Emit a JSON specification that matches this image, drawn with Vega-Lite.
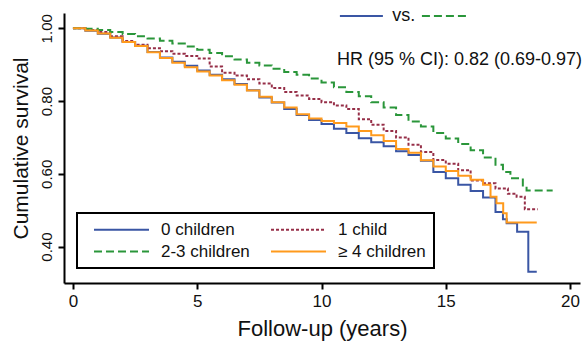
{
  "$schema": "https://vega.github.io/schema/vega-lite/v6.json",
  "width": 516,
  "height": 270,
  "autosize": {"type": "none"},
  "padding": {"left": 64, "top": 13, "right": 5, "bottom": 62},
  "background": "white",
  "config": {
    "view": {"stroke": null},
    "font": "Liberation Sans",
    "legend": {
      "orient": "none",
      "direction": "horizontal",
      "legendX": 13,
      "legendY": 200,
      "columns": 2,
      "title": null,
      "symbolType": "M-5,0H5",
      "symbolSize": 121,
      "symbolStrokeWidth": 2,
      "symbolOffset": 28,
      "labelOffset": 31,
      "strokeColor": "black",
      "strokeWidth": 2,
      "padding": 8,
      "columnPadding": 12,
      "rowPadding": 4,
      "labelFont": "Liberation Sans",
      "labelFontSize": 17,
      "labelColor": "#111111",
      "labelLimit": 300
    }
  },
  "datasets": {
    "km": [
      {"group": "0 children", "t": 0, "s": 1.0},
      {"group": "0 children", "t": 0.5, "s": 0.993},
      {"group": "0 children", "t": 1, "s": 0.985},
      {"group": "0 children", "t": 1.5, "s": 0.975},
      {"group": "0 children", "t": 2, "s": 0.962},
      {"group": "0 children", "t": 2.5, "s": 0.952},
      {"group": "0 children", "t": 3, "s": 0.935},
      {"group": "0 children", "t": 3.5, "s": 0.92},
      {"group": "0 children", "t": 4, "s": 0.908},
      {"group": "0 children", "t": 4.5, "s": 0.897},
      {"group": "0 children", "t": 5, "s": 0.884},
      {"group": "0 children", "t": 5.5, "s": 0.872},
      {"group": "0 children", "t": 6, "s": 0.86},
      {"group": "0 children", "t": 6.5, "s": 0.847},
      {"group": "0 children", "t": 7, "s": 0.83},
      {"group": "0 children", "t": 7.5, "s": 0.81},
      {"group": "0 children", "t": 8, "s": 0.796},
      {"group": "0 children", "t": 8.5, "s": 0.778},
      {"group": "0 children", "t": 9, "s": 0.762},
      {"group": "0 children", "t": 9.5, "s": 0.748},
      {"group": "0 children", "t": 10, "s": 0.737},
      {"group": "0 children", "t": 10.5, "s": 0.724},
      {"group": "0 children", "t": 11, "s": 0.712},
      {"group": "0 children", "t": 11.5, "s": 0.698},
      {"group": "0 children", "t": 12, "s": 0.687},
      {"group": "0 children", "t": 12.5, "s": 0.676},
      {"group": "0 children", "t": 13, "s": 0.662},
      {"group": "0 children", "t": 13.5, "s": 0.652},
      {"group": "0 children", "t": 14, "s": 0.636},
      {"group": "0 children", "t": 14.5, "s": 0.605},
      {"group": "0 children", "t": 15, "s": 0.588},
      {"group": "0 children", "t": 15.5, "s": 0.57},
      {"group": "0 children", "t": 16, "s": 0.553},
      {"group": "0 children", "t": 16.5, "s": 0.535},
      {"group": "0 children", "t": 17, "s": 0.495},
      {"group": "0 children", "t": 17.3, "s": 0.475},
      {"group": "0 children", "t": 17.45, "s": 0.464},
      {"group": "0 children", "t": 17.87, "s": 0.441},
      {"group": "0 children", "t": 18.32, "s": 0.331},
      {"group": "0 children", "t": 18.66, "s": 0.331},
      {"group": "1 child", "t": 0, "s": 1.0},
      {"group": "1 child", "t": 0.5, "s": 0.995},
      {"group": "1 child", "t": 1, "s": 0.99},
      {"group": "1 child", "t": 1.5, "s": 0.978},
      {"group": "1 child", "t": 2, "s": 0.965},
      {"group": "1 child", "t": 2.5, "s": 0.955},
      {"group": "1 child", "t": 3, "s": 0.945},
      {"group": "1 child", "t": 3.5, "s": 0.937},
      {"group": "1 child", "t": 4, "s": 0.93},
      {"group": "1 child", "t": 4.5, "s": 0.924},
      {"group": "1 child", "t": 5, "s": 0.917},
      {"group": "1 child", "t": 5.5, "s": 0.895},
      {"group": "1 child", "t": 6, "s": 0.878},
      {"group": "1 child", "t": 6.5, "s": 0.87},
      {"group": "1 child", "t": 7, "s": 0.86},
      {"group": "1 child", "t": 7.5, "s": 0.848},
      {"group": "1 child", "t": 8, "s": 0.836},
      {"group": "1 child", "t": 8.5, "s": 0.825},
      {"group": "1 child", "t": 9, "s": 0.815},
      {"group": "1 child", "t": 9.5, "s": 0.806},
      {"group": "1 child", "t": 10, "s": 0.797},
      {"group": "1 child", "t": 10.5, "s": 0.788},
      {"group": "1 child", "t": 11, "s": 0.778},
      {"group": "1 child", "t": 11.5, "s": 0.75},
      {"group": "1 child", "t": 12, "s": 0.735},
      {"group": "1 child", "t": 12.5, "s": 0.718},
      {"group": "1 child", "t": 13, "s": 0.7},
      {"group": "1 child", "t": 13.5, "s": 0.68},
      {"group": "1 child", "t": 14, "s": 0.66},
      {"group": "1 child", "t": 14.5, "s": 0.638},
      {"group": "1 child", "t": 15, "s": 0.628},
      {"group": "1 child", "t": 15.5, "s": 0.61},
      {"group": "1 child", "t": 16, "s": 0.582},
      {"group": "1 child", "t": 16.5, "s": 0.574},
      {"group": "1 child", "t": 17, "s": 0.56},
      {"group": "1 child", "t": 17.5, "s": 0.545},
      {"group": "1 child", "t": 17.85, "s": 0.537},
      {"group": "1 child", "t": 18.18, "s": 0.503},
      {"group": "1 child", "t": 18.7, "s": 0.503},
      {"group": "2-3 children", "t": 0, "s": 1.0},
      {"group": "2-3 children", "t": 0.5, "s": 0.999},
      {"group": "2-3 children", "t": 1, "s": 0.995},
      {"group": "2-3 children", "t": 1.5, "s": 0.99},
      {"group": "2-3 children", "t": 2, "s": 0.984},
      {"group": "2-3 children", "t": 2.5, "s": 0.978},
      {"group": "2-3 children", "t": 3, "s": 0.972},
      {"group": "2-3 children", "t": 3.5, "s": 0.966},
      {"group": "2-3 children", "t": 4, "s": 0.958},
      {"group": "2-3 children", "t": 4.5, "s": 0.95},
      {"group": "2-3 children", "t": 5, "s": 0.941},
      {"group": "2-3 children", "t": 5.5, "s": 0.932},
      {"group": "2-3 children", "t": 6, "s": 0.923},
      {"group": "2-3 children", "t": 6.5, "s": 0.914},
      {"group": "2-3 children", "t": 7, "s": 0.905},
      {"group": "2-3 children", "t": 7.5, "s": 0.898},
      {"group": "2-3 children", "t": 8, "s": 0.889},
      {"group": "2-3 children", "t": 8.5, "s": 0.88},
      {"group": "2-3 children", "t": 9, "s": 0.872},
      {"group": "2-3 children", "t": 9.5, "s": 0.862},
      {"group": "2-3 children", "t": 10, "s": 0.851},
      {"group": "2-3 children", "t": 10.5, "s": 0.838},
      {"group": "2-3 children", "t": 11, "s": 0.825},
      {"group": "2-3 children", "t": 11.5, "s": 0.813},
      {"group": "2-3 children", "t": 12, "s": 0.797},
      {"group": "2-3 children", "t": 12.5, "s": 0.782},
      {"group": "2-3 children", "t": 13, "s": 0.762},
      {"group": "2-3 children", "t": 13.5, "s": 0.744},
      {"group": "2-3 children", "t": 14, "s": 0.73},
      {"group": "2-3 children", "t": 14.5, "s": 0.712},
      {"group": "2-3 children", "t": 15, "s": 0.697},
      {"group": "2-3 children", "t": 15.5, "s": 0.682},
      {"group": "2-3 children", "t": 16, "s": 0.665},
      {"group": "2-3 children", "t": 16.5, "s": 0.645},
      {"group": "2-3 children", "t": 17, "s": 0.625},
      {"group": "2-3 children", "t": 17.3, "s": 0.605},
      {"group": "2-3 children", "t": 17.6, "s": 0.588},
      {"group": "2-3 children", "t": 18.1, "s": 0.565},
      {"group": "2-3 children", "t": 18.25, "s": 0.554},
      {"group": "2-3 children", "t": 19.3, "s": 0.554},
      {"group": "≥ 4 children", "t": 0, "s": 1.0},
      {"group": "≥ 4 children", "t": 0.5, "s": 0.994},
      {"group": "≥ 4 children", "t": 1, "s": 0.986},
      {"group": "≥ 4 children", "t": 1.5, "s": 0.974},
      {"group": "≥ 4 children", "t": 2, "s": 0.962},
      {"group": "≥ 4 children", "t": 2.5, "s": 0.951},
      {"group": "≥ 4 children", "t": 3, "s": 0.934},
      {"group": "≥ 4 children", "t": 3.5, "s": 0.918},
      {"group": "≥ 4 children", "t": 4, "s": 0.905},
      {"group": "≥ 4 children", "t": 4.5, "s": 0.893},
      {"group": "≥ 4 children", "t": 5, "s": 0.881},
      {"group": "≥ 4 children", "t": 5.5, "s": 0.87},
      {"group": "≥ 4 children", "t": 6, "s": 0.857},
      {"group": "≥ 4 children", "t": 6.5, "s": 0.845},
      {"group": "≥ 4 children", "t": 7, "s": 0.829},
      {"group": "≥ 4 children", "t": 7.5, "s": 0.812},
      {"group": "≥ 4 children", "t": 8, "s": 0.797},
      {"group": "≥ 4 children", "t": 8.5, "s": 0.782},
      {"group": "≥ 4 children", "t": 9, "s": 0.764},
      {"group": "≥ 4 children", "t": 9.5, "s": 0.752},
      {"group": "≥ 4 children", "t": 10, "s": 0.745},
      {"group": "≥ 4 children", "t": 10.5, "s": 0.74},
      {"group": "≥ 4 children", "t": 11, "s": 0.73},
      {"group": "≥ 4 children", "t": 11.5, "s": 0.718},
      {"group": "≥ 4 children", "t": 12, "s": 0.706},
      {"group": "≥ 4 children", "t": 12.5, "s": 0.69},
      {"group": "≥ 4 children", "t": 13, "s": 0.668},
      {"group": "≥ 4 children", "t": 13.5, "s": 0.658},
      {"group": "≥ 4 children", "t": 14, "s": 0.637},
      {"group": "≥ 4 children", "t": 14.5, "s": 0.62},
      {"group": "≥ 4 children", "t": 15, "s": 0.608},
      {"group": "≥ 4 children", "t": 15.5, "s": 0.595},
      {"group": "≥ 4 children", "t": 16, "s": 0.584},
      {"group": "≥ 4 children", "t": 16.5, "s": 0.57},
      {"group": "≥ 4 children", "t": 16.8, "s": 0.537},
      {"group": "≥ 4 children", "t": 17.04, "s": 0.519},
      {"group": "≥ 4 children", "t": 17.31, "s": 0.492},
      {"group": "≥ 4 children", "t": 17.45, "s": 0.466},
      {"group": "≥ 4 children", "t": 18.66, "s": 0.466}
    ],
    "keyline": [
      {"series": "0 children", "x": 10.74, "x2": 12.47, "y": 1.034},
      {"series": "2-3 children", "x": 14.04, "x2": 15.82, "y": 1.034}
    ],
    "notes": [
      {"label": "vs.", "x": 12.85, "y": 1.034},
      {"label": "HR (95 % CI): 0.82 (0.69-0.97)", "x": 10.62, "y": 0.913}
    ]
  },
  "layer": [
    {
      "data": {"name": "km"},
      "mark": {"type": "line", "interpolate": "step-after", "strokeWidth": 2},
      "encoding": {
        "x": {
          "field": "t", "type": "quantitative",
          "scale": {"domain": [-0.36, 20.4], "nice": false, "zero": false},
          "axis": {
            "values": [0, 5, 10, 15, 20],
            "title": "Follow-up (years)",
            "titleFont": "Liberation Sans", "titleFontSize": 22, "titleFontWeight": "normal", "titleColor": "#111111",
            "titlePadding": 9,
            "labelFont": "Liberation Sans", "labelFontSize": 17, "labelColor": "#111111", "labelPadding": 4,
            "domainColor": "black", "domainWidth": 2, "tickColor": "black", "tickWidth": 2, "tickSize": 6,
            "grid": false
          }
        },
        "y": {
          "field": "s", "type": "quantitative",
          "scale": {"domain": [0.3, 1.042], "nice": false, "zero": false},
          "axis": {
            "values": [0.4, 0.6, 0.8, 1.0],
            "format": ".2f",
            "title": "Cumulative survival",
            "titleFont": "Liberation Sans", "titleFontSize": 21, "titleFontWeight": "normal", "titleColor": "#111111",
            "titlePadding": 8,
            "labelAngle": -90, "labelAlign": "center", "labelBaseline": "bottom",
            "labelFont": "Liberation Sans", "labelFontSize": 15, "labelColor": "#111111", "labelPadding": 4,
            "domainColor": "black", "domainWidth": 2, "tickColor": "black", "tickWidth": 2, "tickSize": 6,
            "grid": false
          }
        },
        "color": {
          "field": "group", "type": "nominal",
          "scale": {
            "domain": ["0 children", "1 child", "2-3 children", "≥ 4 children"],
            "range": ["#3a56a4", "#962f48", "#2a963a", "#ff9a1c"]
          }
        },
        "strokeDash": {
          "field": "group", "type": "nominal",
          "scale": {
            "domain": ["0 children", "1 child", "2-3 children", "≥ 4 children"],
            "range": [[1, 0], [3, 2], [8, 4], [1, 0]]
          }
        }
      }
    },
    {
      "data": {"name": "keyline"},
      "transform": [{"filter": "datum.series == '0 children'"}],
      "mark": {"type": "rule", "strokeWidth": 2, "color": "#3a56a4"},
      "encoding": {
        "x": {"field": "x", "type": "quantitative"},
        "x2": {"field": "x2"},
        "y": {"field": "y", "type": "quantitative"}
      }
    },
    {
      "data": {"name": "keyline"},
      "transform": [{"filter": "datum.series == '2-3 children'"}],
      "mark": {"type": "rule", "strokeWidth": 2, "color": "#2a963a", "strokeDash": [8, 4]},
      "encoding": {
        "x": {"field": "x", "type": "quantitative"},
        "x2": {"field": "x2"},
        "y": {"field": "y", "type": "quantitative"}
      }
    },
    {
      "data": {"name": "notes"},
      "mark": {"type": "text", "align": "left", "baseline": "middle", "font": "Liberation Sans", "fontSize": 18, "color": "#111111"},
      "encoding": {
        "x": {"field": "x", "type": "quantitative"},
        "y": {"field": "y", "type": "quantitative"},
        "text": {"field": "label"}
      }
    }
  ]
}
